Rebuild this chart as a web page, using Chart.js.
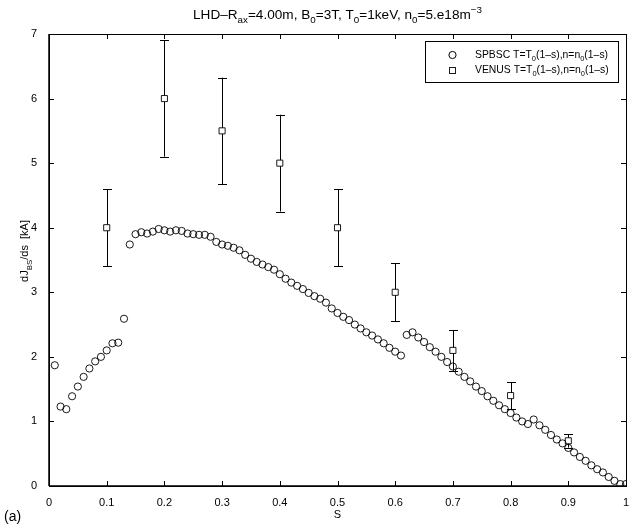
<!DOCTYPE html>
<html>
<head>
<meta charset="utf-8">
<script src="https://cdn.jsdelivr.net/npm/chart.js@4/dist/chart.umd.min.js"></script>
<style>
  html, body { margin: 0; padding: 0; background: #fff; }
  #wrap { width: 633px; height: 524px; position: relative; }
</style>
</head>
<body>
<div id="wrap"><canvas id="c" width="633" height="524"></canvas></div>
<script>
// Normalised radius s of the SPBSC profile
const spbscS = [
  0.01,0.02,0.03,0.04,0.05,0.06,0.07,0.08,0.09,0.10,
  0.11,0.12,0.13,0.14,0.15,0.16,0.17,0.18,0.19,0.20,
  0.21,0.22,0.23,0.24,0.25,0.26,0.27,0.28,0.29,0.30,
  0.31,0.32,0.33,0.34,0.35,0.36,0.37,0.38,0.39,0.40,
  0.41,0.42,0.43,0.44,0.45,0.46,0.47,0.48,0.49,0.50,
  0.51,0.52,0.53,0.54,0.55,0.56,0.57,0.58,0.59,0.60,
  0.61,0.62,0.63,0.64,0.65,0.66,0.67,0.68,0.69,0.70,
  0.71,0.72,0.73,0.74,0.75,0.76,0.77,0.78,0.79,0.80,
  0.81,0.82,0.83,0.84,0.85,0.86,0.87,0.88,0.89,0.90,
  0.91,0.92,0.93,0.94,0.95,0.96,0.97,0.98,0.99,1.00
];
// dJ_BS/ds from SPBSC [kA]
const spbscJ = [
  1.87,1.23,1.19,1.39,1.54,1.69,1.82,1.93,2.00,2.10,
  2.21,2.22,2.59,3.74,3.90,3.93,3.91,3.94,3.98,3.96,
  3.94,3.96,3.95,3.91,3.90,3.89,3.89,3.86,3.78,3.74,
  3.72,3.69,3.65,3.58,3.52,3.47,3.43,3.39,3.35,3.28,
  3.21,3.15,3.10,3.05,2.99,2.94,2.90,2.84,2.75,2.68,
  2.62,2.57,2.50,2.44,2.38,2.33,2.27,2.21,2.14,2.08,
  2.02,2.34,2.38,2.30,2.23,2.15,2.08,2.00,1.92,1.85,
  1.77,1.69,1.62,1.54,1.47,1.39,1.32,1.25,1.19,1.13,
  1.06,1.00,0.96,1.03,0.94,0.87,0.79,0.72,0.66,0.59,
  0.52,0.45,0.39,0.32,0.26,0.21,0.14,0.08,0.03,0.03
];
// VENUS results with error bars
const venusS    = [0.1, 0.2, 0.3, 0.4, 0.5, 0.6, 0.7, 0.8, 0.9];
const venusJ    = [4.0, 6.0, 5.5, 5.0, 4.0, 3.0, 2.1, 1.4, 0.7];
const venusLow  = [3.4, 5.1, 4.675, 4.25, 3.4, 2.55, 1.785, 1.19, 0.595];
const venusHigh = [4.6, 6.9, 6.325, 5.75, 4.6, 3.45, 2.415, 1.61, 0.805];
// Axis ticks
const xTicks = [0, 0.1, 0.2, 0.3, 0.4, 0.5, 0.6, 0.7, 0.8, 0.9, 1];
const yTicks = [0, 1, 2, 3, 4, 5, 6, 7];

const FONT = '"Liberation Sans", Arial, Helvetica, sans-serif';

// Draw text made of runs, some of them subscripted or superscripted
function richWidth(ctx, runs, size) {
  let w = 0;
  for (const r of runs) {
    const s = r.sub || r.sup ? size * 0.72 : size;
    ctx.font = s + 'px ' + FONT;
    w += ctx.measureText(r.t).width;
  }
  return w;
}
function drawRich(ctx, runs, x, y, size, align) {
  const total = richWidth(ctx, runs, size);
  let cx = align === 'center' ? x - total / 2 : (align === 'right' ? x - total : x);
  ctx.textAlign = 'left';
  ctx.textBaseline = 'alphabetic';
  for (const r of runs) {
    const s = r.sub || r.sup ? size * 0.72 : size;
    ctx.font = s + 'px ' + FONT;
    let dy = 0;
    if (r.sub) dy = size * 0.32;
    if (r.sup) dy = -size * 0.45;
    ctx.fillText(r.t, cx, y + dy);
    cx += ctx.measureText(r.t).width;
  }
}

const titleRuns = [
  {t: 'LHD\u2013R'}, {t: 'ax', sub: true}, {t: '=4.00m, B'}, {t: '0', sub: true},
  {t: '=3T, T'}, {t: '0', sub: true}, {t: '=1keV, n'}, {t: '0', sub: true},
  {t: '=5.e18m'}, {t: '\u22123', sup: true}
];
const yLabelRuns = [{t: 'dJ'}, {t: 'BS', sub: true}, {t: '/ds  [kA]'}];
const legendRuns = [
  [{t: 'SPBSC T=T'}, {t: '0', sub: true}, {t: '(1\u2013s),n=n'}, {t: '0', sub: true}, {t: '(1\u2013s)'}],
  [{t: 'VENUS T=T'}, {t: '0', sub: true}, {t: '(1\u2013s),n=n'}, {t: '0', sub: true}, {t: '(1\u2013s)'}]
];

const decorations = {
  id: 'decorations',
  beforeDatasetsDraw(chart) {
    const {ctx, scales: {x, y}} = chart;
    ctx.save();
    ctx.strokeStyle = '#000';
    ctx.lineWidth = 1;
    for (let i = 0; i < venusS.length; i++) {
      const px = Math.round(x.getPixelForValue(venusS[i])) + 0.5;
      const pl = y.getPixelForValue(venusLow[i]);
      const ph = y.getPixelForValue(venusHigh[i]);
      ctx.beginPath();
      ctx.moveTo(px, pl); ctx.lineTo(px, ph);
      ctx.moveTo(px - 4.5, Math.round(pl) + 0.5); ctx.lineTo(px + 4.5, Math.round(pl) + 0.5);
      ctx.moveTo(px - 4.5, Math.round(ph) + 0.5); ctx.lineTo(px + 4.5, Math.round(ph) + 0.5);
      ctx.stroke();
    }
    ctx.restore();
  },
  afterDraw(chart) {
    const {ctx, chartArea: a, scales: {x, y}} = chart;
    ctx.save();
    ctx.strokeStyle = '#000';
    ctx.fillStyle = '#000';
    // frame
    ctx.lineWidth = 1;
    ctx.strokeRect(Math.round(a.left) + 0.5, Math.round(a.top) + 0.5,
                   Math.round(a.right - a.left), Math.round(a.bottom - a.top));
    ctx.lineWidth = 1.5;
    ctx.beginPath();
    ctx.moveTo(a.left, a.bottom); ctx.lineTo(a.right, a.bottom);
    ctx.moveTo(a.left, a.top); ctx.lineTo(a.left, a.bottom);
    ctx.stroke();
    // inward ticks on all four sides
    ctx.lineWidth = 1;
    ctx.beginPath();
    for (const v of xTicks) {
      const px = Math.round(x.getPixelForValue(v)) + 0.5;
      ctx.moveTo(px, a.bottom); ctx.lineTo(px, a.bottom - 5);
      ctx.moveTo(px, a.top); ctx.lineTo(px, a.top + 5);
    }
    for (const v of yTicks) {
      const py = Math.round(y.getPixelForValue(v)) + 0.5;
      ctx.moveTo(a.left, py); ctx.lineTo(a.left + 5, py);
      ctx.moveTo(a.right, py); ctx.lineTo(a.right - 5, py);
    }
    ctx.stroke();

    // legend
    const lx = 425.5, ly = 41.5, lw = 193, lh = 41;
    ctx.fillStyle = '#fff';
    ctx.fillRect(lx, ly, lw, lh);
    ctx.strokeStyle = '#000';
    ctx.lineWidth = 1;
    ctx.strokeRect(lx, ly, lw, lh);
    ctx.beginPath();
    ctx.arc(452.5, 55, 3.6, 0, Math.PI * 2);
    ctx.stroke();
    ctx.strokeStyle = '#0000ff';
    ctx.strokeRect(449.5, 67.5, 6, 6);
    ctx.fillStyle = '#000';
    drawRich(ctx, legendRuns[0], 475, 58, 10.4, 'left');
    drawRich(ctx, legendRuns[1], 475, 73, 10.4, 'left');

    // title
    drawRich(ctx, titleRuns, (a.left + a.right) / 2, 19, 13.6, 'center');
    // x label
    ctx.font = '11px ' + FONT;
    ctx.textAlign = 'center';
    ctx.textBaseline = 'alphabetic';
    ctx.fillText('S', (a.left + a.right) / 2, 518);
    // y label
    ctx.save();
    ctx.translate(28, 251);
    ctx.rotate(-Math.PI / 2);
    drawRich(ctx, yLabelRuns, 0, 0, 11, 'center');
    ctx.restore();
    // panel letter
    ctx.font = '14px ' + FONT;
    ctx.textAlign = 'left';
    ctx.fillText('(a)', 4, 521);
    ctx.restore();
  }
};

new Chart(document.getElementById('c'), {
  type: 'scatter',
  data: {
    datasets: [
      {
        label: 'SPBSC',
        data: spbscS.map((s, i) => ({x: s, y: spbscJ[i]})),
        pointStyle: 'circle',
        pointRadius: 3.6,
        pointBorderWidth: 0.9,
        pointBorderColor: '#000',
        pointBackgroundColor: 'rgba(0,0,0,0)',
        showLine: false
      },
      {
        label: 'VENUS',
        data: venusS.map((s, i) => ({x: s, y: venusJ[i]})),
        pointStyle: 'rect',
        pointRadius: 4.3,
        pointBorderWidth: 0.9,
        pointBorderColor: '#000',
        pointBackgroundColor: '#fff',
        showLine: false
      }
    ]
  },
  options: {
    responsive: false,
    animation: false,
    events: [],
    layout: {padding: {top: 34, right: 7, left: 0, bottom: 0}},
    plugins: {legend: {display: false}, title: {display: false}, tooltip: {enabled: false}},
    scales: {
      x: {
        type: 'linear', min: 0, max: 1,
        grid: {display: false}, border: {display: false},
        afterFit(s) { s.height = 38; },
        afterBuildTicks(s) { s.ticks = xTicks.map(v => ({value: v})); },
        ticks: {
          color: '#000', padding: 2,
          font: {family: FONT, size: 11},
          maxRotation: 0, autoSkip: false,
          callback: v => String(Math.round(v * 10) / 10)
        }
      },
      y: {
        type: 'linear', min: 0, max: 7,
        grid: {display: false}, border: {display: false},
        afterFit(s) { s.width = 49; },
        afterBuildTicks(s) { s.ticks = yTicks.map(v => ({value: v})); },
        ticks: {
          color: '#000', padding: 4,
          font: {family: FONT, size: 11},
          callback: v => String(v)
        }
      }
    }
  },
  plugins: [decorations]
});
</script>
</body>
</html>
